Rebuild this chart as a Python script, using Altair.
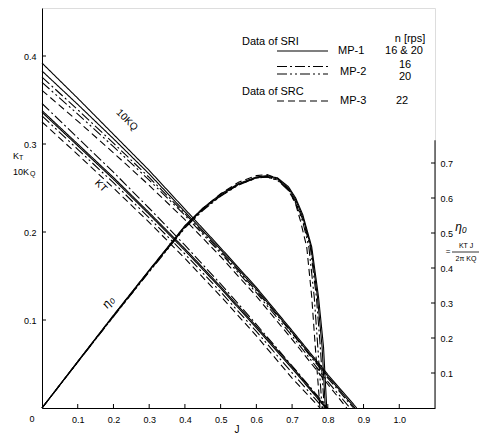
import altair as alt
import pandas as pd

# ---------------- data ----------------
SERIES = ["MP-1 16", "MP-1 20", "MP-2 16", "MP-2 20", "MP-3 22"]

# 10 KQ curves (last point = zero crossing)
J_KQ_mp1_16 = [0.0, 0.1, 0.2, 0.3, 0.4, 0.5, 0.6, 0.7, 0.8, 0.881]
KQ_mp1_16 = [0.392, 0.352, 0.311, 0.270, 0.226, 0.182, 0.137, 0.088, 0.038, 0.0]
J_KQ_mp1_20 = [0.0, 0.1, 0.2, 0.3, 0.4, 0.5, 0.6, 0.7, 0.8, 0.876]
KQ_mp1_20 = [0.383, 0.345, 0.306, 0.266, 0.223, 0.180, 0.135, 0.086, 0.036, 0.0]
J_KQ_mp2_16 = [0.0, 0.1, 0.2, 0.3, 0.4, 0.5, 0.6, 0.7, 0.8, 0.872]
KQ_mp2_16 = [0.376, 0.339, 0.301, 0.262, 0.221, 0.178, 0.133, 0.085, 0.034, 0.0]
J_KQ_mp2_20 = [0.0, 0.1, 0.2, 0.3, 0.4, 0.5, 0.6, 0.7, 0.8, 0.862]
KQ_mp2_20 = [0.370, 0.334, 0.297, 0.259, 0.219, 0.176, 0.131, 0.082, 0.030, 0.0]
J_KQ_mp3_22 = [0.0, 0.1, 0.2, 0.3, 0.4, 0.5, 0.6, 0.7, 0.8, 0.853]
KQ_mp3_22 = [0.361, 0.326, 0.290, 0.253, 0.214, 0.172, 0.127, 0.078, 0.027, 0.0]

# KT curves
J_KT_mp1_16 = [0.0, 0.1, 0.2, 0.3, 0.4, 0.5, 0.6, 0.7, 0.797]
KT_mp1_16 = [0.338, 0.300, 0.262, 0.222, 0.181, 0.138, 0.093, 0.047, 0.0]
J_KT_mp1_20 = [0.0, 0.1, 0.2, 0.3, 0.4, 0.5, 0.6, 0.7, 0.794]
KT_mp1_20 = [0.336, 0.298, 0.260, 0.220, 0.179, 0.136, 0.091, 0.045, 0.0]
J_KT_mp2_16 = [0.0, 0.1, 0.2, 0.3, 0.4, 0.5, 0.6, 0.7, 0.800]
KT_mp2_16 = [0.346, 0.307, 0.268, 0.227, 0.185, 0.141, 0.095, 0.048, 0.0]
J_KT_mp2_20 = [0.0, 0.1, 0.2, 0.3, 0.4, 0.5, 0.6, 0.7, 0.787]
KT_mp2_20 = [0.332, 0.294, 0.256, 0.216, 0.175, 0.132, 0.087, 0.040, 0.0]
J_KT_mp3_22 = [0.0, 0.1, 0.2, 0.3, 0.4, 0.5, 0.6, 0.7, 0.778]
KT_mp3_22 = [0.325, 0.288, 0.250, 0.211, 0.170, 0.127, 0.082, 0.034, 0.0]

# open-water efficiency curves
J_ETA_mp1_16 = [0, 0.1, 0.2, 0.3, 0.4, 0.45, 0.5, 0.55, 0.6, 0.63, 0.66, 0.69, 0.71, 0.73, 0.755, 0.774, 0.788, 0.797]
ETA_mp1_16 = [0, 0.133, 0.265, 0.394, 0.521, 0.571, 0.611, 0.641, 0.660, 0.664, 0.657, 0.632, 0.600, 0.552, 0.460, 0.317, 0.174, 0.0]
J_ETA_mp1_20 = [0, 0.1, 0.2, 0.3, 0.4, 0.45, 0.5, 0.55, 0.6, 0.63, 0.66, 0.69, 0.71, 0.73, 0.753, 0.771, 0.784, 0.793]
ETA_mp1_20 = [0, 0.132, 0.263, 0.392, 0.518, 0.568, 0.608, 0.639, 0.658, 0.662, 0.654, 0.628, 0.595, 0.545, 0.460, 0.317, 0.174, 0.0]
J_ETA_mp2_16 = [0, 0.1, 0.2, 0.3, 0.4, 0.45, 0.5, 0.55, 0.6, 0.63, 0.66, 0.69, 0.71, 0.73, 0.751, 0.768, 0.779, 0.790]
ETA_mp2_16 = [0, 0.131, 0.262, 0.390, 0.516, 0.566, 0.606, 0.638, 0.657, 0.660, 0.651, 0.624, 0.589, 0.538, 0.460, 0.317, 0.174, 0.0]
J_ETA_mp2_20 = [0, 0.1, 0.2, 0.3, 0.4, 0.45, 0.5, 0.55, 0.6, 0.63, 0.66, 0.69, 0.71, 0.73, 0.747, 0.762, 0.772, 0.784]
ETA_mp2_20 = [0, 0.131, 0.261, 0.389, 0.514, 0.564, 0.605, 0.637, 0.657, 0.660, 0.650, 0.621, 0.585, 0.532, 0.460, 0.317, 0.174, 0.0]
J_ETA_mp3_22 = [0, 0.1, 0.2, 0.3, 0.4, 0.45, 0.5, 0.55, 0.6, 0.63, 0.66, 0.69, 0.71, 0.723, 0.741, 0.755, 0.765, 0.778]
ETA_mp3_22 = [0, 0.132, 0.264, 0.393, 0.519, 0.570, 0.612, 0.645, 0.664, 0.667, 0.656, 0.624, 0.582, 0.536, 0.460, 0.317, 0.174, 0.0]

X_TICKS = [0.1, 0.2, 0.3, 0.4, 0.5, 0.6, 0.7, 0.8, 0.9, 1.0]
LEFT_TICKS = [0.1, 0.2, 0.3, 0.4]
RIGHT_TICKS = [0.1, 0.2, 0.3, 0.4, 0.5, 0.6, 0.7]

# ---------------- build tables ----------------
KQ_SETS = [(J_KQ_mp1_16, KQ_mp1_16), (J_KQ_mp1_20, KQ_mp1_20), (J_KQ_mp2_16, KQ_mp2_16),
           (J_KQ_mp2_20, KQ_mp2_20), (J_KQ_mp3_22, KQ_mp3_22)]
KT_SETS = [(J_KT_mp1_16, KT_mp1_16), (J_KT_mp1_20, KT_mp1_20), (J_KT_mp2_16, KT_mp2_16),
           (J_KT_mp2_20, KT_mp2_20), (J_KT_mp3_22, KT_mp3_22)]
ETA_SETS = [(J_ETA_mp1_16, ETA_mp1_16), (J_ETA_mp1_20, ETA_mp1_20), (J_ETA_mp2_16, ETA_mp2_16),
            (J_ETA_mp2_20, ETA_mp2_20), (J_ETA_mp3_22, ETA_mp3_22)]

rows = []
for s, (js, vs) in zip(SERIES, KQ_SETS):
    rows += [dict(J=j, v=v, series=s, curve="KQ " + s) for j, v in zip(js, vs)]
for s, (js, vs) in zip(SERIES, KT_SETS):
    rows += [dict(J=j, v=v, series=s, curve="KT " + s) for j, v in zip(js, vs)]
left_df = pd.DataFrame(rows)

erows = []
for s, (js, vs) in zip(SERIES, ETA_SETS):
    erows += [dict(J=j, eta=v, series=s) for j, v in zip(js, vs)]
eta_df = pd.DataFrame(erows)

# ---------------- styling ----------------
W, H = 393, 400
FONT = "Liberation Sans"
DASHES = [[1, 0], [1, 0], [10, 3, 2, 3], [10, 3, 2, 3, 2, 3], [7, 4]]
dash_enc = alt.StrokeDash("series:N", scale=alt.Scale(domain=SERIES, range=DASHES), legend=None)

x_scale = alt.Scale(domain=[0, 1.1], nice=False, zero=True)
x_axis = alt.Axis(values=X_TICKS, format=".1f", ticks=False, grid=False, domainColor="black",
                  domainWidth=1, labelFont=FONT, labelFontSize=9, labelColor="black",
                  labelPadding=7, title=None)
yl_scale = alt.Scale(domain=[0, H / 880], nice=False)
yl_axis = alt.Axis(orient="left", values=LEFT_TICKS, format=".1f", ticks=False, grid=False,
                   domainColor="black", domainWidth=1, labelFont=FONT, labelFontSize=9,
                   labelColor="black", labelPadding=6, title=None)
yr_scale = alt.Scale(domain=[0, H / 350], nice=False)
yr_axis = alt.Axis(orient="right", values=RIGHT_TICKS, format=".1f", ticks=False, grid=False,
                   domain=False, labelFont=FONT, labelFontSize=9, labelColor="black",
                   labelPadding=5, title=None)

X = alt.X("J:Q", scale=x_scale, axis=x_axis)

lines = alt.Chart(left_df).mark_line(color="black", strokeWidth=1.1).encode(
    x=X, y=alt.Y("v:Q", scale=yl_scale, axis=yl_axis), strokeDash=dash_enc, detail="curve:N")

xt_df = pd.DataFrame({"J": X_TICKS})
x_ticks = alt.Chart(xt_df).mark_rule(color="black", strokeWidth=1).encode(
    x=X, y=alt.value(H), y2=alt.value(H - 4))
ylt_df = pd.DataFrame({"v": LEFT_TICKS})
yl_ticks = alt.Chart(ylt_df).mark_rule(color="black", strokeWidth=1).encode(
    y=alt.Y("v:Q", scale=yl_scale, axis=yl_axis), x=alt.value(0), x2=alt.value(4))

one = pd.DataFrame({"a": [0]})


def txt(s, x, y, size=11, angle=0, align="left", style="normal"):
    return alt.Chart(one).mark_text(text=s, font=FONT, fontSize=size, angle=angle, align=align,
                                    baseline="middle", color="black", fontStyle=style).encode(
        x=alt.value(x), y=alt.value(y))


def seg(x1, x2, y, dash):
    return alt.Chart(one).mark_rule(color="black", strokeWidth=1.1, strokeDash=dash).encode(
        x=alt.value(x1), x2=alt.value(x2), y=alt.value(y))


annot = [
    # axis titles
    txt("K", -29, 148, 9), txt("T", -23, 150, 7),
    txt("10K", -29, 164, 9), txt("Q", -12, 166, 7),
    txt("J", 195, 422, 10, align="center"),
    txt("0", -10, 411, 9, align="center"),
    # curve labels
    txt("10KQ", 85, 112, 10, angle=45, align="center"),
    txt("KT", 59, 178, 10, angle=45, align="center"),
    txt("η₀", 66, 294, 12, angle=308, align="center", style="italic"),
    # right title
    txt("η₀", 419, 219, 12, align="center", style="italic"),
    txt("=", 406, 244, 8, align="center"),
    txt("KT J", 424, 238, 7, align="center"),
    txt("2π KQ", 424, 251, 7, align="center"),
    alt.Chart(one).mark_rule(color="black", strokeWidth=0.8).encode(
        x=alt.value(410), x2=alt.value(437), y=alt.value(244)),
    # legend
    txt("Data of SRI", 200, 34, 11),
    txt("n [rps]", 368, 31, 11, align="center"),
    seg(235, 286, 43, [1, 0]), txt("MP-1", 296, 43, 11), txt("16 & 20", 362, 43, 11, align="center"),
    seg(235, 286, 58.5, DASHES[2]), seg(235, 286, 66, DASHES[3]),
    txt("MP-2", 298, 63.5, 11), txt("16", 363, 57, 11, align="center"), txt("20", 363, 68.5, 11, align="center"),
    txt("Data of SRC", 200, 83.5, 11),
    seg(235, 286, 93, DASHES[4]), txt("MP-3", 298, 93, 11), txt("22", 360, 93, 11, align="center"),
]

left_layer = alt.layer(lines, x_ticks, yl_ticks, *annot)

eta_lines = alt.Chart(eta_df).mark_line(color="black", strokeWidth=1.1).encode(
    x=X, y=alt.Y("eta:Q", scale=yr_scale, axis=yr_axis), strokeDash=dash_enc, detail="series:N")
yrt_df = pd.DataFrame({"eta": RIGHT_TICKS})
yr_ticks = alt.Chart(yrt_df).mark_rule(color="black", strokeWidth=1).encode(
    y=alt.Y("eta:Q", scale=yr_scale, axis=yr_axis), x=alt.value(W - 4), x2=alt.value(W))
yr_line = alt.Chart(pd.DataFrame({"lo": [0.0], "hi": [0.765]})).mark_rule(color="black", strokeWidth=1).encode(
    y=alt.Y("lo:Q", scale=yr_scale, axis=yr_axis), y2="hi:Q", x=alt.value(W))

right_layer = alt.layer(eta_lines, yr_ticks, yr_line)

chart = alt.layer(left_layer, right_layer).resolve_scale(y="independent").properties(
    width=W, height=H,
    autosize=alt.AutoSizeParams(type="none"),
    padding={"left": 34, "top": 0, "right": 44, "bottom": 26},
).configure_view(stroke=None).configure(background="white")

chart.save("out.html", embed_options={"renderer": "svg", "actions": False})
